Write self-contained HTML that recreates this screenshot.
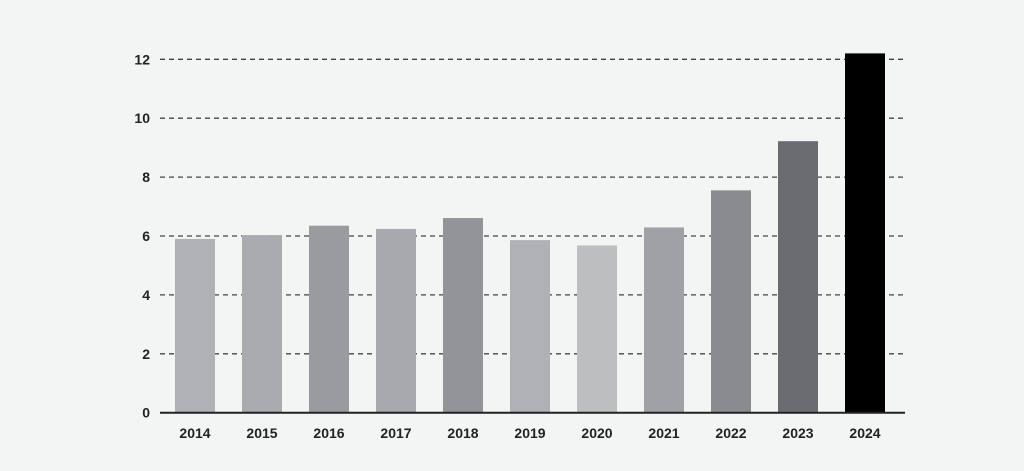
<!DOCTYPE html>
<html><head><meta charset="utf-8"><style>
html,body{margin:0;padding:0;background:#f3f5f4;}
svg{display:block;font-family:"Liberation Sans",sans-serif;}
</style></head><body>
<svg id="chart" width="1024" height="471" viewBox="0 0 1024 471"></svg>
<script>
const categories=["2014","2015","2016","2017","2018","2019","2020","2021","2022","2023","2024"];
const values=[5.9,6.03,6.35,6.24,6.61,5.86,5.68,6.29,7.55,9.22,12.2];
const colors=["#b0b1b4","#aaabae","#9a9b9e","#a8a9ac","#939497","#b0b1b4","#bdbec0","#a0a1a4","#8a8b8e","#6b6c6f","#000000"];
const yTicks=[0,2,4,6,8,10,12];
const NS="http://www.w3.org/2000/svg";
const svg=document.getElementById('chart');
const y0=412.7,pxPerUnit=29.45,x0=160,x1=905,firstBar=175,step=67,bw=40;
const yScale=v=>y0-v*pxPerUnit;
const xScale=i=>firstBar+i*step;
function mk(t,a){const e=document.createElementNS(NS,t);for(const k in a)e.setAttribute(k,a[k]);svg.appendChild(e);return e;}
yTicks.forEach(t=>{
  if(t>0){const g=mk('line',{x1:x0,x2:x1,y1:yScale(t),y2:yScale(t),stroke:'#444','stroke-width':1.3,'stroke-dasharray':'5,4'});
  
  }
  const l=mk('text',{x:150,y:yScale(t)+5,'text-anchor':'end','font-size':14,'font-weight':'bold',fill:'#222'});
  l.textContent=t;
  
  
});
categories.forEach((c,i)=>{
  const r=mk('rect',{x:xScale(i),y:yScale(values[i]),width:bw,height:y0-yScale(values[i]),fill:colors[i]});
  
  
  const t=mk('text',{x:xScale(i)+bw/2,y:438,'text-anchor':'middle','font-size':14,'font-weight':'bold',fill:'#222'});
  t.textContent=c;
  
  
});
const ax=mk('line',{x1:x0,x2:x1,y1:y0,y2:y0,stroke:'#222','stroke-width':2});


</script>
</body></html>
